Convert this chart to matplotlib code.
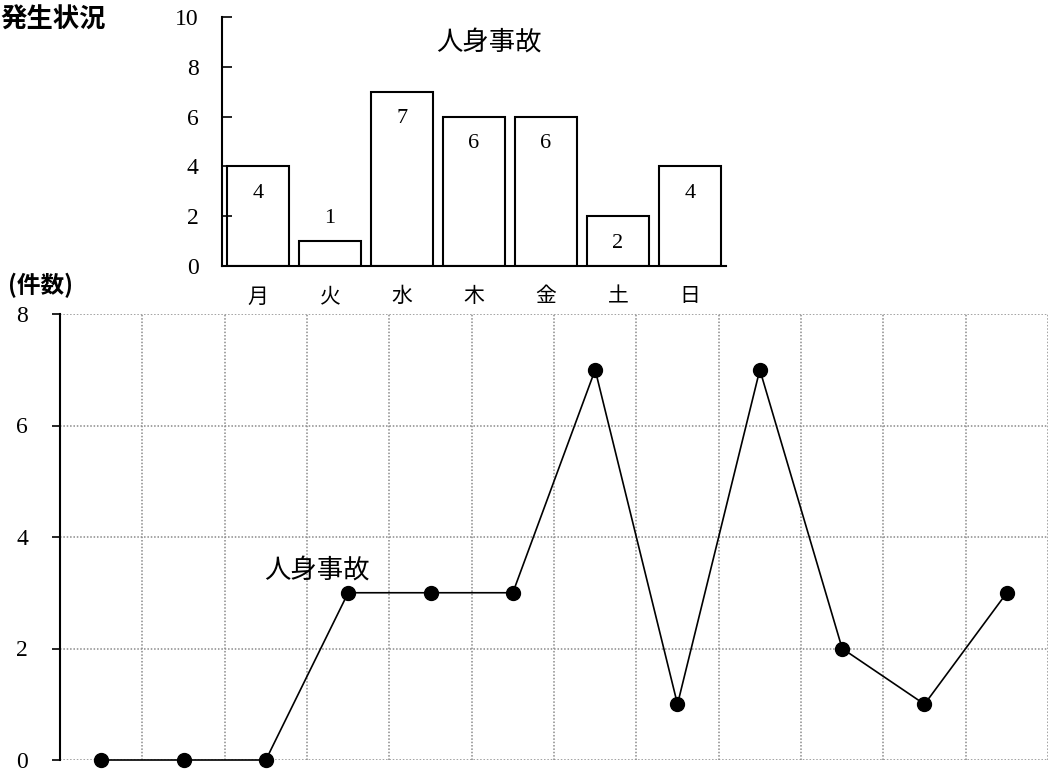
import numpy as np
import matplotlib
matplotlib.use("Agg")
import matplotlib.pyplot as plt

plt.rcParams['font.family'] = ['Liberation Serif', 'Noto Sans CJK JP', 'DejaVu Sans']

# data
weekdays = ['月', '火', '水', '木', '金', '土', '日']
weekday_counts = [4, 1, 7, 6, 6, 2, 4]
monthly_counts = [0, 0, 0, 3, 3, 3, 7, 1, 7, 2, 1, 3]
series_name = '人身事故'

W, H = 1052, 772
fig = plt.figure(figsize=(W / 100, H / 100), dpi=100)

def px_axes(left, top, right, bottom):
    return fig.add_axes([left / W, 1 - bottom / H, (right - left) / W, (bottom - top) / H])

cjk = ['Noto Sans CJK JP', 'DejaVu Sans']

## bottom line chart
ax = px_axes(60, 314, 1048, 760)
x = np.arange(len(monthly_counts))
ax.plot(x, monthly_counts, '-', color='black', linewidth=1.2,
        marker='o', markersize=10, clip_on=False, zorder=5)
ax.set_xlim(-0.5, len(monthly_counts) - 0.5)
ax.set_ylim(0, 8)
ax.set_yticks([0, 2, 4, 6, 8])
ax.set_xticks(np.arange(-0.5, len(monthly_counts), 1.0))
ax.set_xticklabels([])
ax.tick_params(axis='x', length=0)
ax.tick_params(axis='y', direction='out', length=6, width=1.2, pad=17, labelsize=17)
ax.grid(True, linestyle=(0, (1, 1.2)), color='#8a8a8a', linewidth=1.1)
for s in ['top', 'right', 'bottom']:
    ax.spines[s].set_visible(False)
ax.spines['left'].set_linewidth(1.5)
ax.text(2.62, 3.4, series_name, fontsize=19, family=cjk, ha='center', va='center')

## top bar chart
bx = px_axes(222, 17, 726, 266)
bpos = np.arange(len(weekdays))
bx.bar(bpos, weekday_counts, width=0.86, facecolor='white', edgecolor='black', linewidth=1.5)
bx.set_xlim(-0.5, len(weekdays) - 0.5)
bx.set_ylim(0, 10)
bx.set_yticks([0, 2, 4, 6, 8, 10])
bx.set_xticks(bpos)
bx.set_xticklabels(weekdays, family=cjk, fontsize=15)
bx.tick_params(axis='x', length=0, pad=14)
bx.tick_params(axis='y', direction='in', length=7, width=1.2, pad=17, labelsize=17)
for s in ['top', 'right']:
    bx.spines[s].set_visible(False)
bx.spines['left'].set_linewidth(1.5)
bx.spines['bottom'].set_linewidth(1.5)
for xp, v in zip(bpos, weekday_counts):
    off = 23 if v < 2 else -27
    bx.annotate(str(v), (xp, v), xytext=(0, off), textcoords='offset pixels',
                ha='center', va='center', fontsize=16)
bx.text(3.2, 9.0, series_name, fontsize=19, family=cjk, ha='center', va='center')

fig.text(0 / W, 1 - 20 / H, '発生状況', fontsize=19, fontweight='bold', family=cjk,
         ha='left', va='center')
fig.text(8 / W, 1 - 285 / H, '(件数)', fontsize=17, fontweight='bold', family=cjk,
         ha='left', va='center')

fig.savefig('out.png', dpi=100)
